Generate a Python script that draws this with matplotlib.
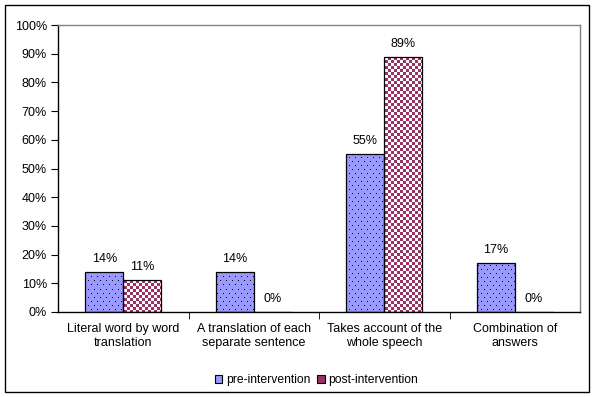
import numpy as np
import matplotlib
matplotlib.use('Agg')
import matplotlib.pyplot as plt
from matplotlib.patches import Rectangle
from matplotlib.colors import ListedColormap

categories = ['Literal word by word\ntranslation', 'A translation of each\nseparate sentence',
              'Takes account of the\nwhole speech', 'Combination of\nanswers']
pre_values = [14, 14, 55, 17]
post_values = [11, 0, 89, 0]
series_names = ['pre-intervention', 'post-intervention']

plt.rcParams['font.family'] = ['Liberation Sans', 'DejaVu Sans']

pre_color = '#9999FF'
post_color = '#993366'
fs = 9

fig = plt.figure(figsize=(5.95, 3.97), dpi=100)
ax = fig.add_axes([58 / 595, 1 - 312 / 397, 522 / 595, 287 / 397])

x = np.arange(len(categories))
w = 0.291

pre_bars = ax.bar(x - w / 2, pre_values, w, facecolor='none', edgecolor='black',
                  linewidth=0.9, label=series_names[0], zorder=2)
post_bars = ax.bar(x + w / 2, post_values, w, facecolor='none', edgecolor='black',
                   linewidth=0.9, label=series_names[1], zorder=2)

ax.set_xlim(-0.5, 3.5)
ax.set_ylim(0, 100)

# pixel-level fill patterns (dots for pre, checkerboard for post)
px_w, px_h = 522, 287
rows, cols = np.mgrid[0:px_h, 0:px_w]
dots = ((rows % 4 == 0) & ((cols + (rows // 4 % 2) * 3) % 6 == 0)).astype(float)
checker = (((rows // 3) + (cols // 3)) % 2).astype(float)
extent = [-0.5, 3.5, 0, 100]

for bars, pattern, colors in [(pre_bars, dots, [pre_color, 'black']),
                              (post_bars, checker, ['white', post_color])]:
    for bar in bars:
        if bar.get_height() <= 0:
            continue
        im = ax.imshow(pattern, cmap=ListedColormap(colors), extent=extent, aspect='auto',
                       interpolation='nearest', zorder=1.5)
        im.set_clip_path(bar)

for bars, vals in [(pre_bars, pre_values), (post_bars, post_values)]:
    for bar, v in zip(bars, vals):
        ax.annotate(f'{v}%', (bar.get_x() + bar.get_width() / 2, v),
                    xytext=(0, 5), textcoords='offset points', ha='center', va='bottom',
                    fontsize=fs)

ax.set_yticks(np.arange(0, 101, 10))
ax.set_yticklabels([f'{t}%' for t in range(0, 101, 10)], fontsize=fs)
ax.set_xticks(x)
ax.set_xticklabels(categories, fontsize=fs)
ax.tick_params(axis='x', which='major', length=0, pad=8)
ax.set_xticks(np.arange(0.5, 3.5, 1), minor=True)
ax.tick_params(axis='x', which='minor', length=5, direction='out')
ax.tick_params(axis='y', length=5, direction='out', pad=3)

ax.spines['top'].set_color('#808080')
ax.spines['right'].set_color('#808080')
for s in ax.spines.values():
    s.set_linewidth(1)

pre_handle = Rectangle((0, 0), 1, 1, facecolor=pre_color, edgecolor='black', linewidth=0.8)
post_handle = Rectangle((0, 0), 1, 1, facecolor=post_color, edgecolor='black', linewidth=0.8)
fig.legend([pre_handle, post_handle], series_names, loc='center', bbox_to_anchor=(0.532, 1 - 380 / 397),
           ncol=2, frameon=False, fontsize=8.7, handlelength=0.6, handleheight=0.6,
           handletextpad=0.3, columnspacing=0.6)

fig.patches.append(Rectangle((5 / 595, 5 / 397), 584 / 595, 387 / 397, transform=fig.transFigure,
                             fill=False, edgecolor='black', linewidth=1))

fig.savefig('out.png', dpi=100)
